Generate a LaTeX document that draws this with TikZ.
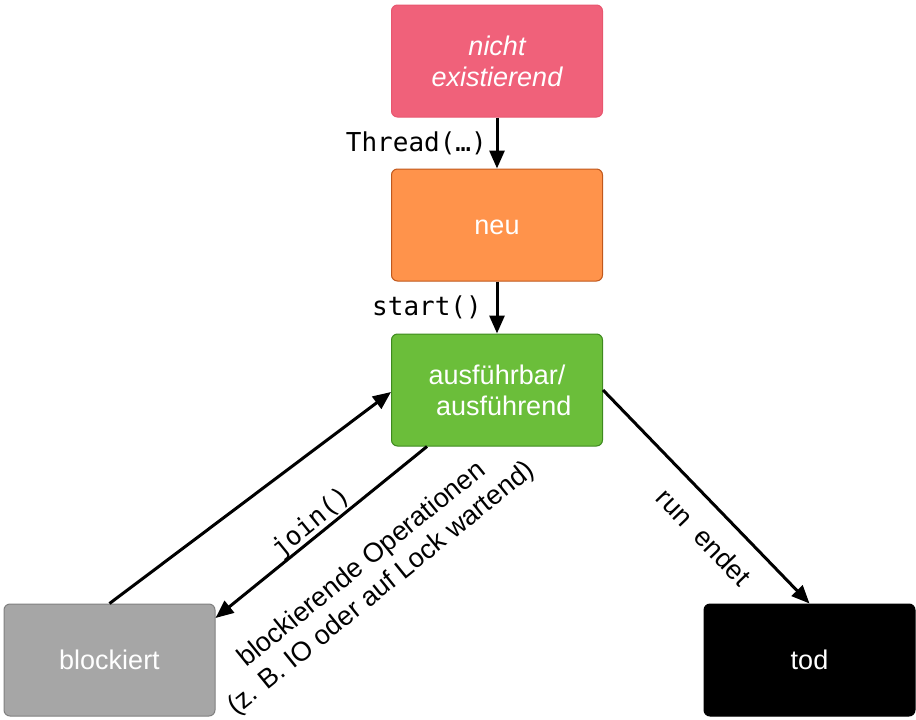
\documentclass[tikz,border=0pt]{standalone}
\usepackage{fontspec}
\setmainfont{Liberation Sans}
\setmonofont{DejaVu Sans Mono}
\usetikzlibrary{arrows.meta,calc}
\definecolor{pinkfill}{HTML}{F0617A}
\definecolor{pinkdraw}{HTML}{E8566F}
\definecolor{orfill}{HTML}{FF934B}
\definecolor{ordraw}{HTML}{C0581C}
\definecolor{grfill}{HTML}{6BBE3A}
\definecolor{grdraw}{HTML}{3E8A1E}
\definecolor{gyfill}{HTML}{A6A6A6}
\definecolor{gydraw}{HTML}{808080}
\begin{document}
\begin{tikzpicture}[x=1pt,y=-1pt,
  state/.style={draw, line width=1pt, rounded corners=6pt, minimum width=211pt, minimum height=112pt,
    text=white, font=\fontsize{27}{31}\selectfont, align=center, inner sep=0pt},
  conn/.style={line width=3pt, -{Triangle[length=18pt,width=15pt]}},
  lbl/.style={font=\fontsize{27}{31}\selectfont, inner sep=1pt, align=center},
  code/.style={font=\ttfamily\fontsize{26}{31}\selectfont, inner sep=1pt}]
\useasboundingbox (0,0) rectangle (916,720);
\node[state, fill=pinkfill, draw=pinkdraw] (ne) at (497,61) {\itshape nicht\\\itshape existierend};
\node[state, fill=orfill, draw=ordraw] (neu) at (497,225) {neu\vphantom{b}};
\node[state, fill=grfill, draw=grdraw] (run) at (497,390) {ausführbar/\\\hspace*{0.5em}ausführend};
\node[state, fill=gyfill, draw=gydraw] (blk) at (109.5,660) {blockiert};
\node[state, fill=black, draw=black] (tod) at (809.5,660) {tod};

\draw[conn] (ne) -- (neu);
\draw[conn] (neu) -- (run);
\draw[conn] (blk.north) -- ([yshift=-2pt]run.west);
\draw[conn] ([xshift=-70pt]run.south) -- ([yshift=42pt]blk.east);
\draw[conn] (run.east) -- (tod.north);

\node[code, anchor=east] (l1) at (488,143) {Thread(…)};
\node[code, anchor=east] (l2) at (483,307) {start()};
\node[code, rotate=39] (l3) at (312,523) {join()};
\node[lbl, rotate=39] (l4) at (372,577) {blockierende Operationen\\(z. B. IO oder auf Lock wartend)};
\node[lbl, rotate=-46] (l5) at (704,537) {run\ \ endet};
\end{tikzpicture}
\end{document}
